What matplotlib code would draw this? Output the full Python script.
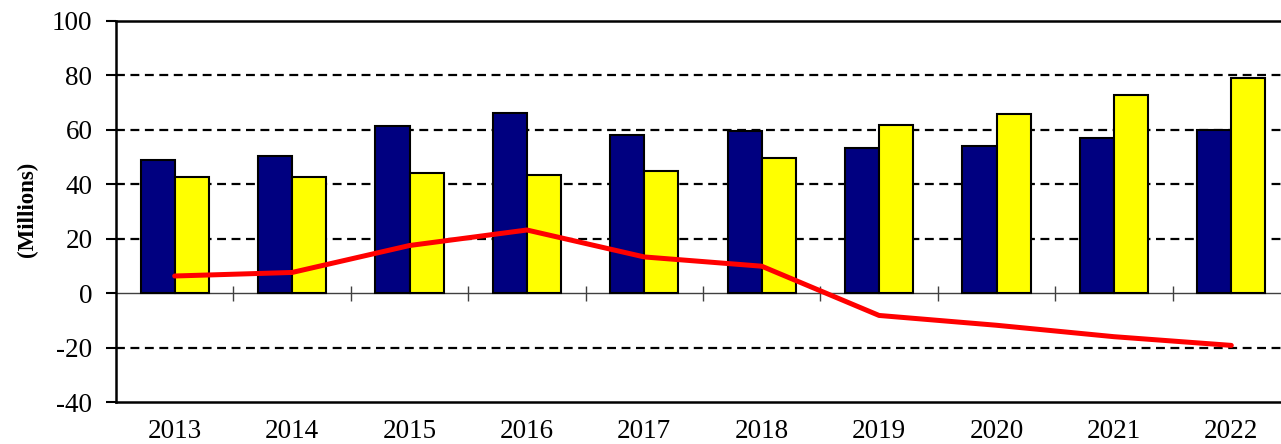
import numpy as np
import matplotlib
matplotlib.use('Agg')
import matplotlib.pyplot as plt

years = ['2013', '2014', '2015', '2016', '2017', '2018', '2019', '2020', '2021', '2022']
blue_vals = [48.8, 50.4, 61.5, 66.3, 58.1, 59.4, 53.4, 54.0, 56.9, 59.9]
yellow_vals = [42.5, 42.8, 44.1, 43.3, 44.9, 49.6, 61.9, 65.7, 72.7, 79.2]
red_vals = [6.3, 7.6, 17.5, 23.2, 13.3, 9.9, -8.2, -11.8, -16.0, -19.2]
yticks = [-40, -20, 0, 20, 40, 60, 80, 100]

plt.rcParams['font.family'] = ['Liberation Serif', 'DejaVu Serif']

W, H = 1281, 444
fig = plt.figure(figsize=(W / 100, H / 100), dpi=100)
left, right, top, bottom = 116, 1290, 21, 402
ax = fig.add_axes([left / W, 1 - bottom / H, (right - left) / W, (bottom - top) / H])

x = np.arange(len(years))
bw = 0.29
ax.bar(x - bw / 2, blue_vals, bw, color='#000080', edgecolor='black', linewidth=1.5, zorder=3)
ax.bar(x + bw / 2, yellow_vals, bw, color='#FFFF00', edgecolor='black', linewidth=1.5, zorder=3)
ax.plot(x, red_vals, color='#FF0000', linewidth=3.6, zorder=4, solid_capstyle='round')

ax.set_xlim(-0.5, len(years) - 0.5)
ax.set_ylim(-40, 100)
ax.set_yticks(yticks)
ax.set_yticklabels([str(v) for v in yticks], fontsize=19.5)
ax.set_xticks(x)
ax.set_xticklabels(years, fontsize=19.5)
ax.tick_params(axis='x', length=0, pad=12.5)
ax.tick_params(axis='y', direction='out', length=7, width=1.5, pad=10)

for v in yticks:
    if v not in (0, -40, 100):
        ax.axhline(v, color='black', linewidth=1.6, linestyle=(0, (4, 2.5)), zorder=1)

# category axis at zero
ax.axhline(0, color='#404040', linewidth=1.0, zorder=2)
ax.vlines(np.arange(0.5, len(years) - 0.5), -2.8, 2.8, color='#404040', linewidth=1.0, zorder=2)

for s in ['left', 'top', 'bottom']:
    ax.spines[s].set_linewidth(1.8)
ax.spines['right'].set_visible(False)

fig.text(27 / W, 1 - 209 / H, '(Millions)', rotation=90, fontsize=16.5, fontweight='bold',
         ha='center', va='center')

fig.savefig('out.png', dpi=100)
